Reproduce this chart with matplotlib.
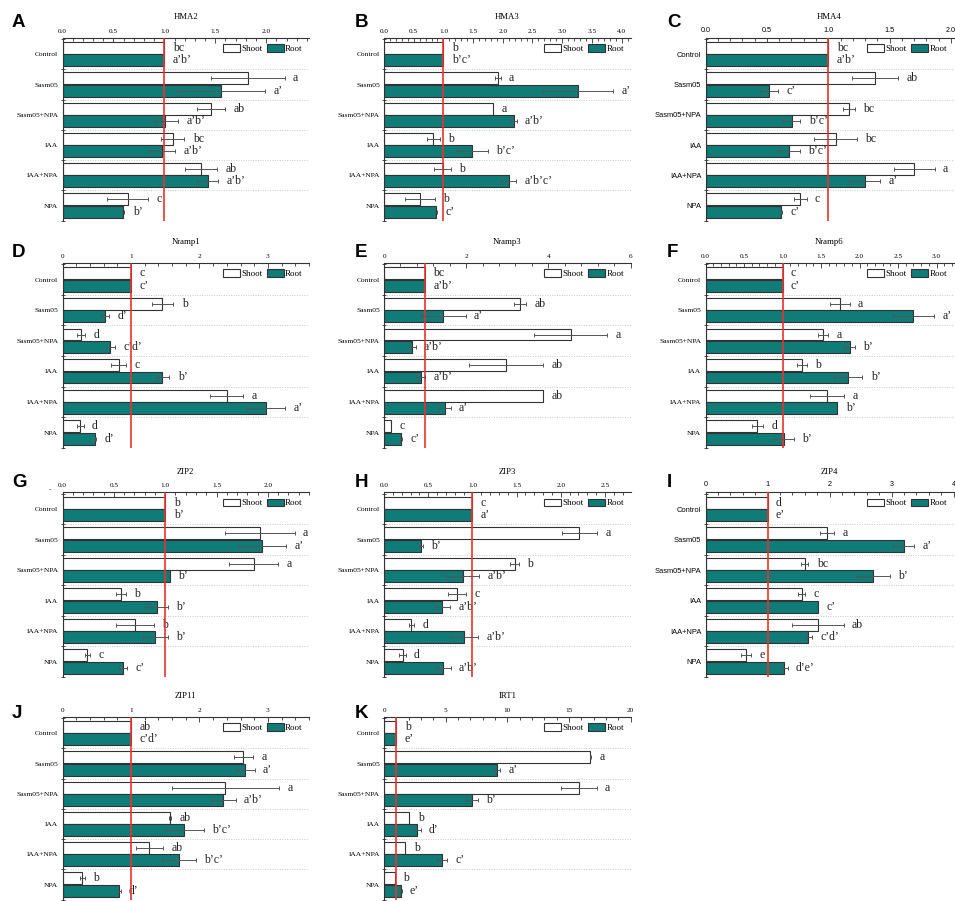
import matplotlib
matplotlib.use("Agg")
import matplotlib.pyplot as plt
from matplotlib.ticker import MultipleLocator, FormatStrFormatter
import numpy as np

# ---------------------------------------------------------------- data
TREATMENTS = ["Control", "Sasm05", "Sasm05+NPA", "IAA", "IAA+NPA", "NPA"]
GENES = ["HMA2", "HMA3", "HMA4", "Nramp1", "Nramp3", "Nramp6",
         "ZIP2", "ZIP3", "ZIP4", "ZIP11", "IRT1"]
PANEL_LETTERS = ["A", "B", "C", "D", "E", "F", "G", "H", "I", "J", "K"]

# relative expression (control = 1) and error of the mean
SHOOT_MEAN = {
    "HMA2":   [1.0, 1.82, 1.46, 1.08, 1.36, 0.64],
    "HMA3":   [1.0, 1.92, 1.84, 0.83, 0.99, 0.61],
    "HMA4":   [1.0, 1.38, 1.17, 1.06, 1.70, 0.77],
    "Nramp1": [1.0, 1.46, 0.27, 0.82, 2.40, 0.26],
    "Nramp3": [1.0, 3.31, 4.55, 2.97, 3.88, 0.18],
    "Nramp6": [1.0, 1.74, 1.53, 1.25, 1.58, 0.675],
    "ZIP2":   [1.0, 1.92, 1.86, 0.57, 0.705, 0.24],
    "ZIP3":   [1.0, 2.21, 1.48, 0.83, 0.31, 0.21],
    "ZIP4":   [1.0, 1.96, 1.60, 1.55, 1.81, 0.66],
    "ZIP11":  [1.0, 2.64, 2.38, 1.57, 1.27, 0.29],
    "IRT1":   [1.0, 16.74, 15.82, 2.05, 1.72, 0.86],
}
SHOOT_ERR = {
    "HMA2":   [0, 0.36, 0.14, 0.115, 0.16, 0.20],
    "HMA3":   [0, 0.045, 0, 0.105, 0.14, 0.25],
    "HMA4":   [0, 0.19, 0.046, 0.173, 0.166, 0.053],
    "Nramp1": [0, 0.16, 0.063, 0.105, 0.24, 0.05],
    "Nramp3": [0, 0.147, 0.89, 0.9, 0, 0],
    "Nramp6": [0, 0.13, 0.063, 0.063, 0.22, 0.07],
    "ZIP2":   [0, 0.34, 0.24, 0.05, 0.187, 0.025],
    "ZIP3":   [0, 0.2, 0.05, 0.1, 0.03, 0.036],
    "ZIP4":   [0, 0.11, 0.06, 0.055, 0.42, 0.08],
    "ZIP11":  [0, 0.14, 0.78, 0.015, 0.2, 0.04],
    "IRT1":   [0, 0.05, 1.43, 0, 0, 0],
}
ROOT_MEAN = {
    "HMA2":   [1.0, 1.555, 1.01, 0.975, 1.425, 0.597],
    "HMA3":   [1.0, 3.26, 2.185, 1.48, 2.10, 0.88],
    "HMA4":   [1.0, 0.514, 0.703, 0.678, 1.297, 0.616],
    "Nramp1": [1.0, 0.62, 0.70, 1.46, 2.97, 0.48],
    "Nramp3": [1.0, 1.44, 0.69, 0.89, 1.48, 0.42],
    "Nramp6": [1.0, 2.70, 1.87, 1.85, 1.71, 1.02],
    "ZIP2":   [1.0, 1.94, 1.045, 0.92, 0.905, 0.59],
    "ZIP3":   [1.0, 0.42, 0.89, 0.66, 0.91, 0.67],
    "ZIP4":   [1.0, 3.20, 2.70, 1.82, 1.66, 1.27],
    "ZIP11":  [1.0, 2.67, 2.35, 1.78, 1.70, 0.83],
    "IRT1":   [1.0, 9.16, 7.14, 2.70, 4.69, 1.37],
}
ROOT_ERR = {
    "HMA2":   [0, 0.435, 0.125, 0.13, 0.10, 0.01],
    "HMA3":   [0, 0.6, 0.05, 0.27, 0.13, 0.02],
    "HMA4":   [0, 0.074, 0.07, 0.09, 0.128, 0.005],
    "Nramp1": [0, 0.065, 0.07, 0.10, 0.28, 0.01],
    "Nramp3": [0, 0.55, 0.08, 0.115, 0.14, 0.02],
    "Nramp6": [0, 0.27, 0.07, 0.186, 0, 0.13],
    "ZIP2":   [0, 0.235, 0, 0.107, 0.122, 0.04],
    "ZIP3":   [0, 0.02, 0.19, 0.087, 0.153, 0.083],
    "ZIP4":   [0, 0.17, 0.27, 0, 0.055, 0.055],
    "ZIP11":  [0, 0.135, 0.18, 0.28, 0.25, 0.02],
    "IRT1":   [0, 0.27, 0.5, 0.27, 0.43, 0.05],
}
SHOOT_GROUPS = {
    "HMA2":   ["bc", "a", "ab", "bc", "ab", "c"],
    "HMA3":   ["b", "a", "a", "b", "b", "b"],
    "HMA4":   ["bc", "ab", "bc", "bc", "a", "c"],
    "Nramp1": ["c", "b", "d", "c", "a", "d"],
    "Nramp3": ["bc", "ab", "a", "ab", "ab", "c"],
    "Nramp6": ["c", "a", "a", "b", "a", "d"],
    "ZIP2":   ["b", "a", "a", "b", "b", "c"],
    "ZIP3":   ["c", "a", "b", "c", "d", "d"],
    "ZIP4":   ["d", "a", "bc", "c", "ab", "e"],
    "ZIP11":  ["ab", "a", "a", "ab", "ab", "b"],
    "IRT1":   ["b", "a", "a", "b", "b", "b"],
}
ROOT_GROUPS = {
    "HMA2":   ["a’b’", "a’", "a’b’", "a’b’", "a’b’", "b’"],
    "HMA3":   ["b’c’", "a’", "a’b’", "b’c’", "a’b’c’", "c’"],
    "HMA4":   ["a’b’", "c’", "b’c’", "b’c’", "a’", "c’"],
    "Nramp1": ["c’", "d’", "c’d’", "b’", "a’", "d’"],
    "Nramp3": ["a’b’", "a’", "a’b’", "a’b’", "a’", "c’"],
    "Nramp6": ["c’", "a’", "b’", "b’", "b’", "b’"],
    "ZIP2":   ["b’", "a’", "b’", "b’", "b’", "c’"],
    "ZIP3":   ["a’", "b’", "a’b’", "a’b’", "a’b’", "a’b’"],
    "ZIP4":   ["e’", "a’", "b’", "c’", "c’d’", "d’e’"],
    "ZIP11":  ["c’d’", "a’", "a’b’", "b’c’", "b’c’", "d’"],
    "IRT1":   ["e’", "a’", "b’", "d’", "c’", "e’"],
}

# ---------------------------------------------------------------- style
SERIF = "Liberation Serif"
SANS = "Liberation Sans"
TEAL = "#0f7c78"
EDGE = "#333333"
RED = "#e8322e"

# x range, major step, minor step, tick format, sans-serif axis labels
AXIS_STYLE = {
    "HMA2":   (2.42, 0.5, 0.1, "%.1f", False),
    "HMA3":   (4.15, 0.5, 0.1, "%.1f", False),
    "HMA4":   (2.02, 0.5, 0.1, "%.1f", True),
    "Nramp1": (3.6, 1, 0.2, "%d", False),
    "Nramp3": (6.0, 2, 0.4, "%d", False),
    "Nramp6": (3.22, 0.5, 0.1, "%.1f", False),
    "ZIP2":   (2.4, 0.5, 0.1, "%.1f", False),
    "ZIP3":   (2.79, 0.5, 0.1, "%.1f", False),
    "ZIP4":   (4.0, 1, 0.2, "%d", True),
    "ZIP11":  (3.6, 1, 0.2, "%d", False),
    "IRT1":   (20, 5, 1, "%d", False),
}

W, H = 955, 901
fig = plt.figure(figsize=(W / 100, H / 100), dpi=100)

col_left = [62.5, 384, 705.5]
col_width = [246.5, 246.5, 248]
row_top = [37.7, 262.8, 492.3, 716.7]
row_height = [183, 185, 184.5, 183]
letter_x = [12, 355, 667]
letter_base = [27, 257, 487, 718]

y = np.arange(len(TREATMENTS))
bar_h = 0.39

for k, gene in enumerate(GENES):
    r, c = divmod(k, 3)
    rect = [col_left[c] / W, 1 - (row_top[r] + row_height[r]) / H,
            col_width[c] / W, row_height[r] / H]
    ax = fig.add_axes(rect)
    xmax, major, minor, fmt, sans = AXIS_STYLE[gene]
    tick_font = SANS if sans else SERIF

    s_mean = np.array(SHOOT_MEAN[gene])
    s_err = np.array(SHOOT_ERR[gene])
    r_mean = np.array(ROOT_MEAN[gene])
    r_err = np.array(ROOT_ERR[gene])
    ys = y - 0.205
    yr = y + 0.2

    ax.barh(ys, s_mean, height=bar_h, color="white", edgecolor=EDGE,
            linewidth=0.8, label="Shoot", zorder=2)
    ax.barh(yr, r_mean, height=bar_h, color=TEAL, edgecolor=EDGE,
            linewidth=0.8, label="Root", zorder=2)

    for pos, m, e in ((ys, s_mean, s_err), (yr, r_mean, r_err)):
        mask = e > 0
        ax.errorbar(m[mask], pos[mask], xerr=e[mask], fmt="none",
                    ecolor="#555555", elinewidth=0.7, capsize=1.6,
                    capthick=0.7, zorder=5)

    for pos, m, e, labs in ((ys, s_mean, s_err, SHOOT_GROUPS[gene]),
                            (yr, r_mean, r_err, ROOT_GROUPS[gene])):
        for yy, mm, ee, lab in zip(pos, m, e, labs):
            ax.annotate(lab, xy=(mm + ee, yy), xytext=(6, 0),
                        textcoords="offset points", ha="left", va="center",
                        fontsize=8.5, family=SERIF, color="#222222")

    ax.axvline(1.0, color=RED, lw=1.2, zorder=4)
    for b in np.arange(0.5, len(TREATMENTS) - 1, 1.0):
        ax.axhline(b, color="#c8c8c8", lw=0.7, ls=(0, (1, 1.5)), zorder=1)

    ax.set_xlim(0, xmax)
    ax.set_ylim(len(TREATMENTS) - 0.5, -0.55)

    ax.xaxis.tick_top()
    ax.xaxis.set_major_locator(MultipleLocator(major))
    ax.xaxis.set_minor_locator(MultipleLocator(minor))
    ax.xaxis.set_major_formatter(FormatStrFormatter(fmt))
    ax.tick_params(axis="x", which="both", direction="in", top=True,
                   bottom=False, color="#333333", width=0.6, pad=3)
    ax.tick_params(axis="x", which="major", length=3.5)
    ax.tick_params(axis="x", which="minor", length=2)
    for t in ax.get_xticklabels():
        t.set_fontfamily(tick_font)
        t.set_fontsize(5.2)

    ax.set_yticks(y)
    ax.set_yticklabels(TREATMENTS, fontsize=5.4, family=tick_font)
    ax.set_yticks(np.arange(-0.5, len(TREATMENTS), 1.0), minor=True)
    ax.tick_params(axis="y", which="major", length=0, pad=3)
    ax.tick_params(axis="y", which="minor", length=3, direction="inout",
                   width=0.6, color="#333333")

    for side in ("right", "bottom"):
        ax.spines[side].set_visible(False)
    for side in ("top", "left"):
        ax.spines[side].set_linewidth(0.8)
        ax.spines[side].set_color("#333333")

    ax.annotate(gene, xy=(0.5, 1), xycoords="axes fraction",
                xytext=(0, 13.3), textcoords="offset points",
                ha="center", va="baseline", fontsize=6.3, family=SERIF)

    ax.legend(loc="upper right", ncol=2, frameon=False,
              prop={"family": SERIF, "size": 6.5},
              handlelength=1.9, handleheight=0.9, handletextpad=0.15,
              columnspacing=0.5, borderaxespad=0.4, borderpad=0.3)

    fig.text(letter_x[c] / W, 1 - letter_base[r] / H, PANEL_LETTERS[k],
             fontsize=13.5, fontweight="bold", family=SANS,
             ha="left", va="baseline")

# stray dash next to the first ZIP2 tick label
fig.text(50 / W, 1 - 31 / H - 460 / H, "-", fontsize=5.2, family=SERIF,
         ha="center", va="baseline")

fig.savefig("out.png", dpi=100)
